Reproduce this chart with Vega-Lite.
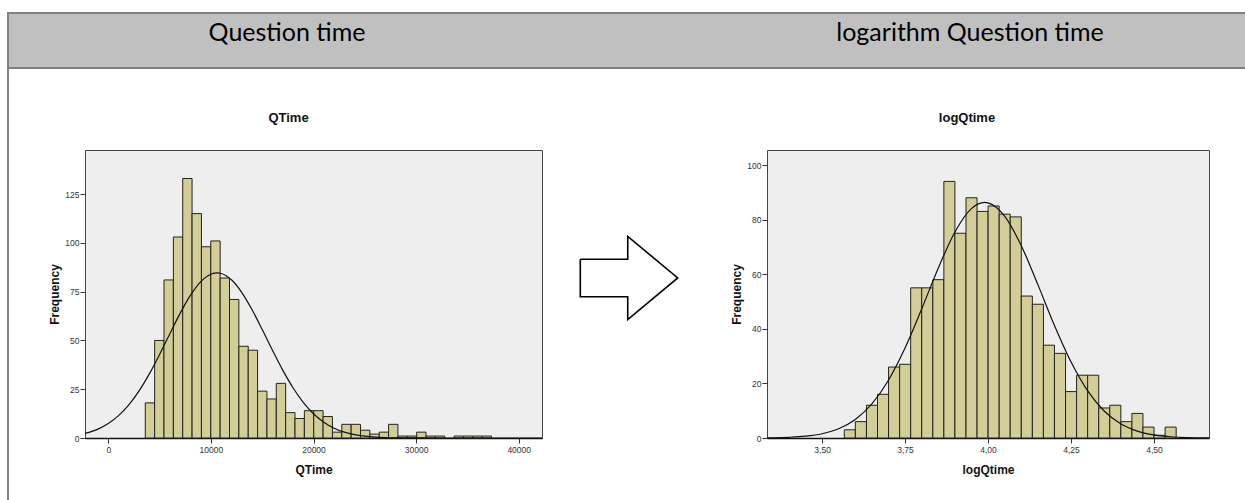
{
  "$schema": "https://vega.github.io/schema/vega-lite/v6.json",
  "padding": {"left": 7, "top": 12, "right": 0, "bottom": 0},
  "background": "white",
  "bounds": "flush",
  "spacing": 82,
  "config": {
    "font": "Liberation Sans",
    "axis": {"labelFont": "Liberation Sans", "labelFontSize": 8.5, "labelColor": "#333", "tickColor": "#333", "tickSize": 5, "tickWidth": 1, "grid": false, "titleFont": "Liberation Sans", "titleFontSize": 12, "titleFontWeight": "bold", "titleColor": "#111", "domainColor": "#111"},
    "axisX": {"labelPadding": 2, "domainWidth": 1.5, "titleBaseline": "alphabetic", "titleY": 35.5},
    "axisY": {"labelPadding": 1, "domain": false, "titleBaseline": "alphabetic", "titleX": -26.5, "titleAngle": -90},
    "title": {"font": "Liberation Sans", "fontSize": 13, "fontWeight": "bold", "color": "#111", "baseline": "alphabetic", "offset": 25.4, "anchor": "middle"}
  },
  "datasets": {
    "qtime": [
      {"lo": 3606, "hi": 4518, "n": 18}, {"lo": 4518, "hi": 5430, "n": 50}, {"lo": 5430, "hi": 6342, "n": 81},
      {"lo": 6342, "hi": 7254, "n": 103}, {"lo": 7254, "hi": 8166, "n": 133}, {"lo": 8166, "hi": 9078, "n": 115},
      {"lo": 9078, "hi": 9990, "n": 98}, {"lo": 9990, "hi": 10902, "n": 101}, {"lo": 10902, "hi": 11814, "n": 82},
      {"lo": 11814, "hi": 12726, "n": 71}, {"lo": 12726, "hi": 13638, "n": 47}, {"lo": 13638, "hi": 14550, "n": 45},
      {"lo": 14550, "hi": 15462, "n": 24}, {"lo": 15462, "hi": 16374, "n": 20}, {"lo": 16374, "hi": 17286, "n": 28},
      {"lo": 17286, "hi": 18198, "n": 13}, {"lo": 18198, "hi": 19110, "n": 10}, {"lo": 19110, "hi": 20022, "n": 14},
      {"lo": 20022, "hi": 20934, "n": 14}, {"lo": 20934, "hi": 21846, "n": 11}, {"lo": 21846, "hi": 22758, "n": 3},
      {"lo": 22758, "hi": 23670, "n": 7}, {"lo": 23670, "hi": 24582, "n": 7}, {"lo": 24582, "hi": 25494, "n": 4},
      {"lo": 25494, "hi": 26406, "n": 2}, {"lo": 26406, "hi": 27318, "n": 3}, {"lo": 27318, "hi": 28230, "n": 7},
      {"lo": 28230, "hi": 29142, "n": 1}, {"lo": 29142, "hi": 30054, "n": 1}, {"lo": 30054, "hi": 30966, "n": 3},
      {"lo": 30966, "hi": 31878, "n": 1}, {"lo": 31878, "hi": 32790, "n": 1}, {"lo": 33702, "hi": 34614, "n": 1},
      {"lo": 34614, "hi": 35526, "n": 1}, {"lo": 35526, "hi": 36438, "n": 1}, {"lo": 36438, "hi": 37350, "n": 1}
    ],
    "qcurve": [
      {"x": -2270, "y": 2.33}, {"x": -1000, "y": 4.56}, {"x": 0, "y": 7.39}, {"x": 1000, "y": 11.45},
      {"x": 2000, "y": 16.99}, {"x": 3000, "y": 24.15}, {"x": 4000, "y": 32.87}, {"x": 5000, "y": 42.84},
      {"x": 6000, "y": 53.45}, {"x": 7000, "y": 63.86}, {"x": 8000, "y": 73.06}, {"x": 9000, "y": 80.03},
      {"x": 10000, "y": 83.94}, {"x": 10600, "y": 84.6}, {"x": 11000, "y": 84.31}, {"x": 12000, "y": 81.08},
      {"x": 13000, "y": 74.66}, {"x": 14000, "y": 65.83}, {"x": 15000, "y": 55.58}, {"x": 16000, "y": 44.93},
      {"x": 17000, "y": 34.78}, {"x": 18000, "y": 25.78}, {"x": 19000, "y": 18.3}, {"x": 20000, "y": 12.43},
      {"x": 21000, "y": 8.09}, {"x": 22000, "y": 5.04}, {"x": 23000, "y": 3.01}, {"x": 24000, "y": 1.72},
      {"x": 25000, "y": 0.94}, {"x": 26000, "y": 0.49}, {"x": 27000, "y": 0.25}, {"x": 28000, "y": 0.12},
      {"x": 29000, "y": 0.05}, {"x": 30000, "y": 0.02}, {"x": 32000, "y": 0}, {"x": 36000, "y": 0}, {"x": 42270, "y": 0}
    ],
    "logq": [
      {"lo": 3.567, "hi": 3.6003, "n": 3}, {"lo": 3.6003, "hi": 3.6337, "n": 6}, {"lo": 3.6337, "hi": 3.667, "n": 12},
      {"lo": 3.667, "hi": 3.7003, "n": 16}, {"lo": 3.7003, "hi": 3.7337, "n": 26}, {"lo": 3.7337, "hi": 3.767, "n": 27},
      {"lo": 3.767, "hi": 3.8003, "n": 55}, {"lo": 3.8003, "hi": 3.8337, "n": 55}, {"lo": 3.8337, "hi": 3.867, "n": 58},
      {"lo": 3.867, "hi": 3.9003, "n": 94}, {"lo": 3.9003, "hi": 3.9337, "n": 75}, {"lo": 3.9337, "hi": 3.967, "n": 88},
      {"lo": 3.967, "hi": 4.0003, "n": 83}, {"lo": 4.0003, "hi": 4.0337, "n": 85}, {"lo": 4.0337, "hi": 4.067, "n": 82},
      {"lo": 4.067, "hi": 4.1003, "n": 81}, {"lo": 4.1003, "hi": 4.1337, "n": 52}, {"lo": 4.1337, "hi": 4.167, "n": 49},
      {"lo": 4.167, "hi": 4.2003, "n": 34}, {"lo": 4.2003, "hi": 4.2337, "n": 31}, {"lo": 4.2337, "hi": 4.267, "n": 17},
      {"lo": 4.267, "hi": 4.3003, "n": 23}, {"lo": 4.3003, "hi": 4.3337, "n": 23}, {"lo": 4.3337, "hi": 4.367, "n": 11},
      {"lo": 4.367, "hi": 4.4003, "n": 12}, {"lo": 4.4003, "hi": 4.4337, "n": 6}, {"lo": 4.4337, "hi": 4.467, "n": 9},
      {"lo": 4.467, "hi": 4.5003, "n": 4}, {"lo": 4.5003, "hi": 4.5337, "n": 1}, {"lo": 4.5337, "hi": 4.567, "n": 4}
    ],
    "lcurve": [
      {"x": 3.334, "y": 0.07}, {"x": 3.35, "y": 0.09}, {"x": 3.4, "y": 0.26}, {"x": 3.45, "y": 0.66},
      {"x": 3.5, "y": 1.56}, {"x": 3.55, "y": 3.4}, {"x": 3.6, "y": 6.8}, {"x": 3.65, "y": 12.51},
      {"x": 3.7, "y": 21.18}, {"x": 3.75, "y": 32.97}, {"x": 3.8, "y": 47.22}, {"x": 3.85, "y": 62.21},
      {"x": 3.9, "y": 75.38}, {"x": 3.95, "y": 84.02}, {"x": 3.99, "y": 86.3}, {"x": 4.0, "y": 86.16},
      {"x": 4.05, "y": 81.26}, {"x": 4.1, "y": 70.51}, {"x": 4.15, "y": 56.27}, {"x": 4.2, "y": 41.31},
      {"x": 4.25, "y": 27.9}, {"x": 4.3, "y": 17.33}, {"x": 4.35, "y": 9.9}, {"x": 4.4, "y": 5.21},
      {"x": 4.45, "y": 2.52}, {"x": 4.5, "y": 1.12}, {"x": 4.55, "y": 0.46}, {"x": 4.6, "y": 0.17}, {"x": 4.666, "y": 0.05}
    ],
    "arrow": [
      {"i": 0, "ax": 0, "ay": 0.449}, {"i": 1, "ax": 0.487, "ay": 0.449}, {"i": 2, "ax": 0.487, "ay": 1},
      {"i": 3, "ax": 1, "ay": 0}, {"i": 4, "ax": 0.487, "ay": -1}, {"i": 5, "ax": 0.487, "ay": -0.449},
      {"i": 6, "ax": 0, "ay": -0.449}, {"i": 7, "ax": 0, "ay": 0.449}
    ]
  },
  "vconcat": [
    {
      "width": 1237,
      "height": 55,
      "view": {"stroke": null, "fill": null},
      "layer": [
        {
          "data": {"values": [{"x0": 0, "x1": 1250, "y0": 0, "y1": 55}]},
          "mark": {"type": "rect", "fill": "#c0c0c0", "stroke": "#808080", "strokeWidth": 2},
          "encoding": {
            "x": {"field": "x0", "type": "quantitative", "scale": {"domain": [0, 1237], "nice": false, "zero": false}, "axis": null},
            "x2": {"field": "x1"},
            "y": {"field": "y0", "type": "quantitative", "scale": {"domain": [0, 55], "nice": false, "zero": false, "reverse": true}, "axis": null},
            "y2": {"field": "y1"}
          }
        },
        {
          "data": {"values": [{"x": 0, "y0": 55, "y1": 490}]},
          "mark": {"type": "rule", "stroke": "#808080", "strokeWidth": 2},
          "encoding": {
            "x": {"field": "x", "type": "quantitative"},
            "y": {"field": "y0", "type": "quantitative"},
            "y2": {"field": "y1"}
          }
        },
        {
          "data": {"values": [{"label": "Question time", "x": 279, "y": 28}, {"label": "logarithm Question time", "x": 962, "y": 28}]},
          "mark": {"type": "text", "font": "Lato", "fontSize": 25, "baseline": "alphabetic", "align": "center", "color": "#000"},
          "encoding": {
            "x": {"field": "x", "type": "quantitative"},
            "y": {"field": "y", "type": "quantitative"},
            "text": {"field": "label"}
          }
        }
      ]
    },
    {
      "bounds": "flush",
      "spacing": 10,
      "hconcat": [
        {
          "width": 67,
          "height": 288,
          "view": {"stroke": null, "fill": null},
          "data": {"values": [{"t": ""}]},
          "mark": {"type": "text"},
          "encoding": {"text": {"field": "t"}}
        },
        {
          "width": 457,
          "height": 288,
          "title": {"text": "QTime", "dx": -25},
          "view": {"fill": "#eeeeee", "stroke": "#444", "strokeWidth": 1},
          "layer": [
            {
              "data": {"name": "qtime"},
              "mark": {"type": "rect", "fill": "#d3ce97", "stroke": "#222", "strokeWidth": 1},
              "encoding": {
                "x": {"field": "lo", "type": "quantitative", "title": "QTime", "scale": {"domain": [-2270, 42270], "nice": false, "zero": false}, "axis": {"values": [0, 10000, 20000, 30000, 40000], "format": "d"}},
                "x2": {"field": "hi"},
                "y": {"field": "n", "type": "quantitative", "title": "Frequency", "scale": {"domain": [0, 147.6], "nice": false}, "axis": {"values": [0, 25, 50, 75, 100, 125]}},
                "y2": {"datum": 0}
              }
            },
            {
              "data": {"name": "qcurve"},
              "mark": {"type": "line", "color": "#111", "strokeWidth": 1.2, "interpolate": "monotone"},
              "encoding": {
                "x": {"field": "x", "type": "quantitative"},
                "y": {"field": "y", "type": "quantitative"}
              }
            }
          ]
        },
        {
          "width": 205,
          "height": 288,
          "view": {"stroke": null, "fill": null},
          "data": {"name": "arrow"},
          "mark": {"type": "line", "color": "#000", "strokeWidth": 1.6, "strokeJoin": "miter"},
          "encoding": {
            "x": {"field": "ax", "type": "quantitative", "scale": {"domain": [-0.2906, 1.8142], "nice": false, "zero": false}, "axis": null},
            "y": {"field": "ay", "type": "quantitative", "scale": {"domain": [-3.842, 3.073], "nice": false, "zero": false}, "axis": null},
            "order": {"field": "i"}
          }
        },
        {
          "width": 442,
          "height": 288,
          "title": {"text": "logQtime", "dx": -21},
          "view": {"fill": "#eeeeee", "stroke": "#444", "strokeWidth": 1},
          "layer": [
            {
              "data": {"name": "logq"},
              "mark": {"type": "rect", "fill": "#d3ce97", "stroke": "#222", "strokeWidth": 1},
              "encoding": {
                "x": {"field": "lo", "type": "quantitative", "title": "logQtime", "scale": {"domain": [3.334, 4.666], "nice": false, "zero": false}, "axis": {"values": [3.5, 3.75, 4.0, 4.25, 4.5], "labelExpr": "replace(format(datum.value, '.2f'), '.', ',')"}},
                "x2": {"field": "hi"},
                "y": {"field": "n", "type": "quantitative", "title": "Frequency", "scale": {"domain": [0, 105.5], "nice": false}, "axis": {"values": [0, 20, 40, 60, 80, 100]}},
                "y2": {"datum": 0}
              }
            },
            {
              "data": {"name": "lcurve"},
              "mark": {"type": "line", "color": "#111", "strokeWidth": 1.2, "interpolate": "monotone"},
              "encoding": {
                "x": {"field": "x", "type": "quantitative"},
                "y": {"field": "y", "type": "quantitative"}
              }
            }
          ]
        }
      ]
    }
  ]
}
